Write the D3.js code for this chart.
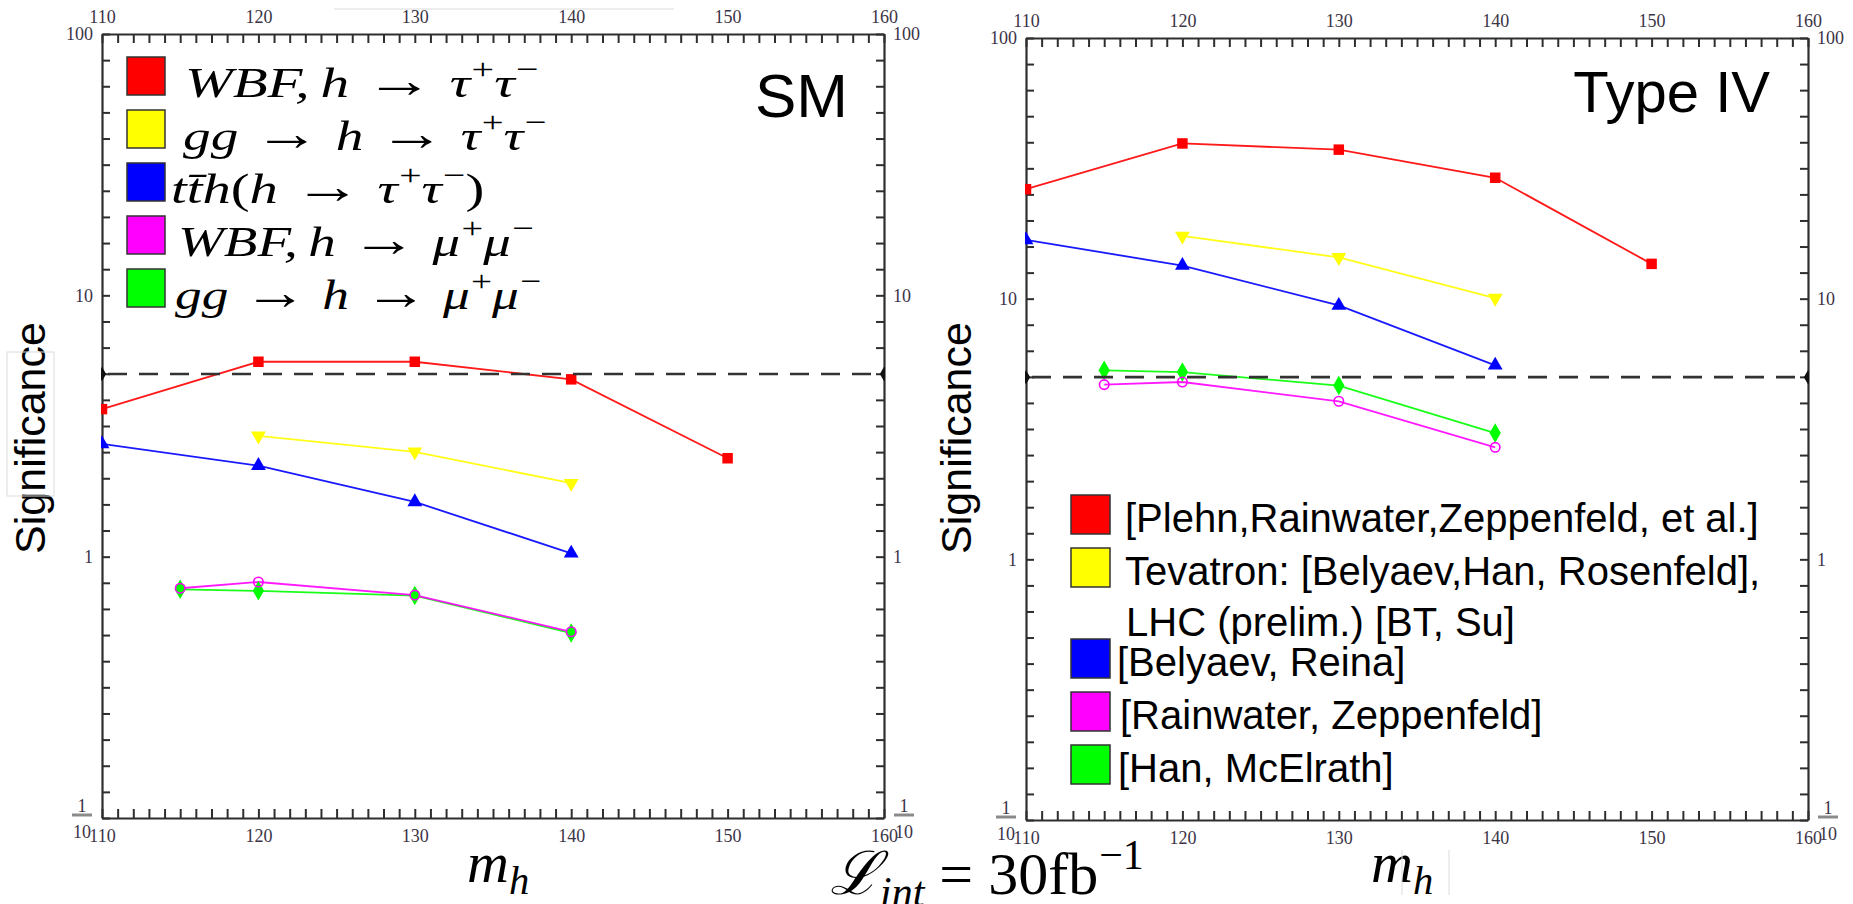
<!DOCTYPE html>
<html><head><meta charset="utf-8">
<script src="https://cdn.jsdelivr.net/npm/d3@7"></script>
<style>body{margin:0;background:#fff;overflow:hidden} svg{display:block}</style>
</head><body>
<svg id="c" width="1853" height="904"></svg>
<script>
// ---------------- data ----------------
const massTickLabels = [110, 120, 130, 140, 150, 160];
const seriesKeys = ["wbfTau", "ggTau", "tth", "ggMu", "wbfMu"];
const seriesColors = {wbfTau: "#ff0000", ggTau: "#ffff00", tth: "#0000ff", wbfMu: "#ff00ff", ggMu: "#00ff00"};
const seriesMarkers = {wbfTau: "square", ggTau: "down", tth: "up", wbfMu: "circle", ggMu: "diamond"};

const wbfTauMass = [110, 120, 130, 140, 150];
const ggTauMass = [120, 130, 140];
const tthMass = [110, 120, 130, 140];
const muMass = [115, 120, 130, 140];

// SM panel
const smWbfTau = [3.67, 5.57, 5.57, 4.77, 2.38];
const smGgTau = [2.90, 2.52, 1.91];
const smTth = [2.70, 2.23, 1.62, 1.03];
const smWbfMu = [0.757, 0.80, 0.713, 0.516];
const smGgMu = [0.75, 0.74, 0.71, 0.51];

// Type IV panel
const t4WbfTau = [26.3, 39.4, 37.3, 29.1, 13.6];
const t4GgTau = [17.4, 14.4, 10.05];
const t4Tth = [16.8, 13.4, 9.42, 5.55];
const t4WbfMu = [4.68, 4.79, 4.04, 2.69];
const t4GgMu = [5.31, 5.23, 4.64, 3.05];

const discoveryLine = 5;

const panelTitles = ["SM", "Type IV"];
const legendSM = [
  {key: "wbfTau", segs: [["WBF,", "i"], ["h", "i", 8], ["\u2192", "arr"], ["\u03c4", "i"], ["+", "sup"], ["\u03c4", "i"], ["\u2212", "sup"]]},
  {key: "ggTau", segs: [["gg", "i"], ["\u2192", "arr"], ["h", "i"], ["\u2192", "arr"], ["\u03c4", "i"], ["+", "sup"], ["\u03c4", "i"], ["\u2212", "sup"]]},
  {key: "tth", segs: [["tt\u0304h", "i"], ["(", "r"], ["h", "i"], ["\u2192", "arr"], ["\u03c4", "i"], ["+", "sup"], ["\u03c4", "i"], ["\u2212", "sup"], [")", "r"]]},
  {key: "wbfMu", segs: [["WBF,", "i"], ["h", "i", 8], ["\u2192", "arr"], ["\u03bc", "i"], ["+", "sup"], ["\u03bc", "i"], ["\u2212", "sup"]]},
  {key: "ggMu", segs: [["gg", "i"], ["\u2192", "arr"], ["h", "i"], ["\u2192", "arr"], ["\u03bc", "i"], ["+", "sup"], ["\u03bc", "i"], ["\u2212", "sup"]]}
];
const legendT4 = [
  {key: "wbfTau", lines: ["[Plehn,Rainwater,Zeppenfeld, et al.]"]},
  {key: "ggTau", lines: ["Tevatron: [Belyaev,Han, Rosenfeld],", "LHC (prelim.) [BT, Su]"]},
  {key: "tth", lines: ["[Belyaev, Reina]"]},
  {key: "wbfMu", lines: ["[Rainwater, Zeppenfeld]"]},
  {key: "ggMu", lines: ["[Han, McElrath]"]}
];

// ---------------- drawing ----------------
const svg = d3.select("#c");
const TICKFONT = "'Liberation Serif', 'Times New Roman', serif";
const SANS = "'Liberation Sans', Arial, Helvetica, sans-serif";
const SERIF = "'Liberation Serif', 'Times New Roman', serif";
const TICKCOL = "#3b3446";
const AXCOL = "#2e2e2e";

function symbolPath(type, size) {
  const m = {square: d3.symbolSquare, up: d3.symbolTriangle, down: d3.symbolTriangle, circle: d3.symbolCircle, diamond: d3.symbolDiamond};
  return d3.symbol().type(m[type]).size(size)();
}

function drawPanel(cfg) {
  const {x0, x1, y0, y1, id} = cfg;
  const x = d3.scaleLinear().domain([110, 160]).range([x0, x1]);
  const y = d3.scaleLog().domain([0.1, 100]).range([y1, y0]);
  const g = svg.append("g");

  g.append("clipPath").attr("id", "clip" + id).append("rect")
    .attr("x", x0 - 1).attr("y", y0).attr("width", x1 - x0 + 2).attr("height", y1 - y0);

  const xt = d3.range(110, 161, 1);
  const yt = d3.range(-10, 21).map(k => Math.pow(10, k / 10));
  const isDec = d => Math.abs(Math.log10(d) - Math.round(Math.log10(d))) < 1e-9;
  const yFmt = d => {
    if (!isDec(d)) return "";
    const v = Math.round(Math.log10(d));
    return v === -1 ? "" : String(Math.pow(10, v));
  };
  const xFmt = d => (massTickLabels.includes(d) ? String(d) : "");

  const styleAxis = sel => {
    sel.selectAll(".domain").attr("stroke", AXCOL).attr("stroke-width", 2.2);
    sel.selectAll(".tick line").attr("stroke", AXCOL).attr("stroke-width", 2);
    sel.selectAll(".tick text").attr("fill", TICKCOL).attr("font-family", TICKFONT).attr("font-size", 18);
  };

  g.append("g").attr("transform", `translate(0,${y1})`)
    .call(d3.axisBottom(x).tickValues(xt).tickFormat(xFmt).tickSizeInner(-9).tickSizeOuter(0).tickPadding(11))
    .call(styleAxis);
  g.append("g").attr("transform", `translate(0,${y0})`)
    .call(d3.axisTop(x).tickValues(xt).tickFormat(xFmt).tickSizeInner(-9).tickSizeOuter(0).tickPadding(11))
    .call(styleAxis);
  g.append("g").attr("transform", `translate(${x0},0)`)
    .call(d3.axisLeft(y).tickValues(yt).tickFormat(yFmt).tickSizeInner(-8).tickSizeOuter(0).tickPadding(9))
    .call(styleAxis);
  g.append("g").attr("transform", `translate(${x1},0)`)
    .call(d3.axisRight(y).tickValues(yt).tickFormat(yFmt).tickSizeInner(-8).tickSizeOuter(0).tickPadding(9))
    .call(styleAxis);
  g.selectAll(".tick text").attr("font-family", TICKFONT);

  const frac = (cx, cy) => {
    const f = g.append("g").attr("font-family", TICKFONT).attr("font-size", 18).attr("fill", TICKCOL).attr("text-anchor", "middle");
    f.append("text").attr("x", cx).attr("y", cy - 6).text("1");
    f.append("line").attr("x1", cx - 10).attr("x2", cx + 10).attr("y1", cy - 3).attr("y2", cy - 3).attr("stroke", "#8a8a8a").attr("stroke-width", 3);
    f.append("text").attr("x", cx).attr("y", cy + 20).text("10");
  };
  frac(x0 - 20, y(0.1));
  frac(x1 + 20, y(0.1));

  const plot = g.append("g").attr("clip-path", `url(#clip${id})`);
  const line = d3.line().x(d => x(d[0])).y(d => y(d[1]));

  seriesKeys.forEach(k => {
    plot.append("path").datum(cfg.data[k]).attr("d", line).attr("fill", "none")
      .attr("stroke", seriesColors[k]).attr("stroke-width", 1.8).attr("stroke-opacity", 0.9);
  });
  seriesKeys.forEach(k => {
    const pts = cfg.data[k];
    const type = seriesMarkers[k];
    const size = type === "square" ? 110 : type === "circle" ? 70 : type === "diamond" ? 110 : 95;
    plot.selectAll(null).data(pts).join("path")
      .attr("d", symbolPath(type, size))
      .attr("transform", d => `translate(${x(d[0])},${y(d[1])})` + (type === "down" ? " rotate(180)" : ""))
      .attr("fill", type === "circle" ? "none" : seriesColors[k])
      .attr("stroke", type === "circle" ? seriesColors[k] : "none")
      .attr("stroke-width", 1.6);
  });

  plot.append("line").attr("x1", x(110)).attr("x2", x(160)).attr("y1", y(discoveryLine)).attr("y2", y(discoveryLine))
    .attr("stroke", "#333").attr("stroke-width", 2.6).attr("stroke-dasharray", "19,12").attr("stroke-dashoffset", -6);
  [110, 160].forEach(m => {
    plot.append("path").attr("d", symbolPath("diamond", 60))
      .attr("transform", `translate(${x(m)},${y(discoveryLine)})`).attr("fill", "#111");
  });
  return {x, y, g};
}

drawPanel({
  id: "sm", x0: 102, x1: 884, y0: 34, y1: 818,
  data: {
    wbfTau: d3.zip(wbfTauMass, smWbfTau),
    ggTau: d3.zip(ggTauMass, smGgTau),
    tth: d3.zip(tthMass, smTth),
    wbfMu: d3.zip(muMass, smWbfMu),
    ggMu: d3.zip(muMass, smGgMu)
  }
});
drawPanel({
  id: "t4", x0: 1026, x1: 1808, y0: 38, y1: 820,
  data: {
    wbfTau: d3.zip(wbfTauMass, t4WbfTau),
    ggTau: d3.zip(ggTauMass, t4GgTau),
    tth: d3.zip(tthMass, t4Tth),
    wbfMu: d3.zip(muMass, t4WbfMu),
    ggMu: d3.zip(muMass, t4GgMu)
  }
});

// math-like text: segments of [text, style, extra dx]
function mathText(parent, x, yb, segs, size, len) {
  const t = parent.append("text").attr("x", 0).attr("y", 0).attr("font-family", SERIF).attr("font-size", size).attr("fill", "#000");
  let shift = 0, prevArr = false;
  segs.forEach(([s, st, dx]) => {
    const sp = t.append("tspan").text(s);
    let target = 0;
    let extra = dx || 0;
    if (st === "sup") { target = -0.42 * size; sp.attr("font-size", size * 0.7).attr("font-style", "normal"); extra += 1; }
    else if (st === "sub") { target = 0.2 * size; sp.attr("font-size", size * 0.7).attr("font-style", "italic"); }
    else if (st === "arr") { sp.attr("font-size", size * 1.2).attr("font-style", "normal"); extra += 0.28 * size; }
    else sp.attr("font-style", st === "i" ? "italic" : "normal");
    if (prevArr) extra += 0.28 * size;
    prevArr = st === "arr";
    if (extra) sp.attr("dx", extra);
    if (target !== shift) { sp.attr("dy", target - shift); shift = target; }
  });
  let sx = 1;
  if (len) {
    const w = t.node().getComputedTextLength();
    sx = Math.max(0.85, Math.min(1.4, len / w));
  }
  t.attr("transform", `translate(${x},${yb}) scale(${sx},1)`);
  return t;
}

// legend SM
const legG = svg.append("g");
const smTextX = [185, 183, 171, 178, 175];
const smTextEnd = [493, 482, 450, 490, 479];
legendSM.forEach((L, i) => {
  const sy = 57 + i * 53;
  legG.append("rect").attr("x", 127).attr("y", sy).attr("width", 38).attr("height", 38)
    .attr("fill", seriesColors[L.key]).attr("stroke", "#333").attr("stroke-width", 1.5);
  mathText(legG, smTextX[i], sy + 40, L.segs, 42, smTextEnd[i] - smTextX[i]);
});

// legend Type IV
const t4SwY = [495, 548, 639, 692, 745];
const t4TextX = [1125, 1125, 1117, 1120, 1118];
legendT4.forEach((L, i) => {
  const sy = t4SwY[i];
  legG.append("rect").attr("x", 1071).attr("y", sy).attr("width", 39).attr("height", 39)
    .attr("fill", seriesColors[L.key]).attr("stroke", "#333").attr("stroke-width", 1.5);
  L.lines.forEach((ln, j) => {
    legG.append("text").attr("x", t4TextX[i] + (j ? 1 : 0)).attr("y", sy + 37 + j * 51)
      .attr("font-family", SANS).attr("font-size", 40).attr("fill", "#000").text(ln);
  });
});

// panel titles
svg.append("text").attr("x", 848).attr("y", 117).attr("text-anchor", "end")
  .attr("font-family", SANS).attr("font-size", 62).text(panelTitles[0]);
svg.append("text").attr("x", 1770).attr("y", 112).attr("text-anchor", "end")
  .attr("font-family", SANS).attr("font-size", 58).text(panelTitles[1]);

// y axis titles
[[45, 438], [971, 438]].forEach(([bx, cy]) => {
  svg.append("text").attr("transform", `translate(${bx},${cy}) rotate(-90)`).attr("text-anchor", "middle")
    .attr("font-family", SANS).attr("font-size", 43).attr("fill", "#000").text("Significance");
});

// x axis titles m_h
[467, 1371].forEach(mx => {
  mathText(svg, mx, 882, [["m", "i"], ["h", "sub"]], 58);
});

// luminosity
mathText(svg, 830, 894, [["\u2112", "i"], ["int", "sub"], [" = 30", "r"], ["fb", "r"], ["\u22121", "sup"]], 60);

// faint artefacts of the original slide
const faint = svg.append("g").attr("stroke", "#dcdcdc").attr("fill", "none").attr("stroke-width", 1);
faint.append("rect").attr("x", 7).attr("y", 352).attr("width", 47).attr("height", 144);
faint.append("line").attr("x1", 334).attr("x2", 674).attr("y1", 9).attr("y2", 9);
faint.append("line").attr("x1", 1402).attr("x2", 1402).attr("y1", 850).attr("y2", 895);
faint.append("line").attr("x1", 1449).attr("x2", 1449).attr("y1", 850).attr("y2", 895);
</script>
</body></html>
